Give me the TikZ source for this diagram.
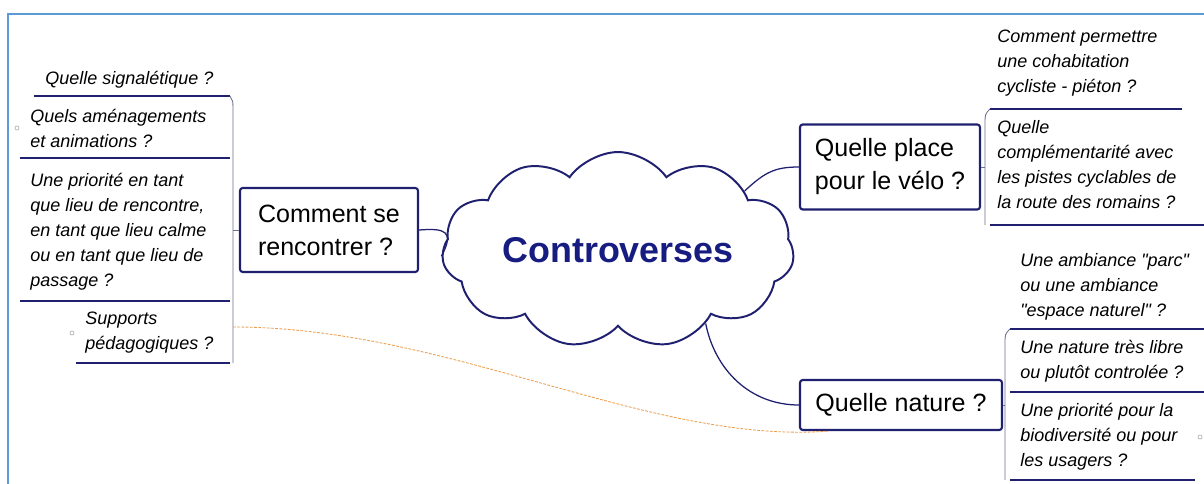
\documentclass[tikz,border=0pt]{standalone}
\usepackage{fontspec}
\setmainfont{Liberation Sans}[Ligatures=TeXOff]
\usepackage{xcolor}
\usetikzlibrary{shapes.symbols}

\definecolor{navy}{RGB}{32,32,112}
\definecolor{titleblue}{RGB}{22,28,128}
\definecolor{frameblue}{RGB}{91,155,213}
\definecolor{dashorange}{RGB}{236,156,76}
\definecolor{brackgray}{RGB}{110,110,145}

\begin{document}
\begin{tikzpicture}[x=0.025cm,y=-0.025cm,
  box/.style={draw=navy,line width=1.5pt,rounded corners=2pt,fill=white,align=left,inner sep=0pt,font=\fontsize{17.8pt}{23.5pt}\selectfont},
  leaf/.style={anchor=west,align=left,inner sep=0pt,font=\fontsize{12.8pt}{17.8pt}\selectfont\itshape},
  uline/.style={draw=navy,line width=1pt},
  brk/.style={draw=brackgray,line width=0.6pt},
  link/.style={draw=navy,line width=0.9pt},
  dot/.style={draw=gray!70,line width=0.4pt}]

\useasboundingbox (0,0) rectangle (1204,484);
\draw[frameblue,line width=1.8pt] (8,484) -- (8,14) -- (1204,14);

\node[draw=navy,line width=1.4pt,cloud,cloud puffs=11,cloud puff arc=110,aspect=2.12,minimum width=8.8cm,minimum height=4.15cm,inner sep=0pt,text=titleblue,font=\fontsize{25.5pt}{30pt}\selectfont\bfseries] (0) at (618,250) {Controverses};
\node[box,minimum width=4.45cm,minimum height=2.1cm] (1) at (329,230) {Comment se\\rencontrer ?};
\node[box,minimum width=4.5cm,minimum height=2.125cm] (2) at (890,167) {Quelle place\\pour le vélo ?};
\node[box,minimum width=5.05cm,minimum height=1.25cm] (3) at (901,405) {Quelle nature ?};

\node[leaf] (4) at (45,80) {Quelle signalétique ?};
\node[leaf] (5) at (30,128) {Quels aménagements\\et animations ?};
\node[leaf] (6) at (30,232) {Une priorité en tant\\que lieu de rencontre,\\en tant que lieu calme\\ou en tant que lieu de\\passage ?};
\node[leaf] (7) at (85,333) {Supports\\pédagogiques ?};
\node[leaf] (8) at (997,63) {Comment permettre\\une cohabitation\\cycliste - piéton ?};
\node[leaf] (9) at (997,165) {Quelle\\complémentarité avec\\les pistes cyclables de\\la route des romains ?};
\node[leaf] (10) at (1020,287) {Une ambiance "parc"\\ou une ambiance\\"espace naturel" ?};
\node[leaf] (11) at (1020,361) {Une nature très libre\\ou plutôt controlée ?};
\node[leaf] (12) at (1020,437) {Une priorité pour la\\biodiversité ou pour\\les usagers ?};

\draw[uline] (34,96) -- (230,96);
\draw[uline] (20,158) -- (230,158);
\draw[uline] (20,301) -- (230,301);
\draw[uline] (76,363) -- (230,363);
\draw[uline] (990,109) -- (1182,109);
\draw[uline] (990,225) -- (1204,225);
\draw[uline] (1010,329) -- (1204,329);
\draw[uline] (1010,392) -- (1204,392);
\draw[uline] (1010,480) -- (1195,480);

\draw[brk] (230,96) .. controls (233,100) .. (233,115) -- (233,363);
\draw[brk] (990,109) .. controls (985,114) .. (985,125) -- (985,225);
\draw[brk] (1010,329) .. controls (1005,334) .. (1005,345) -- (1005,480);

\coordinate (a) at (233,230);
\coordinate (b) at (985,167);
\coordinate (c) at (1005,405);
\coordinate (d) at (233,327);
\draw[brk] (1.west) -- (a);
\draw[brk] (2.east) -- (b);
\draw[brk] (3.east) -- (c);

\draw[link] (1.east) .. controls (445,228) and (455,231) .. (0.182);
\draw[link] (0.25) .. controls (765,172) and (775,167) .. (2.west);
\draw[link] (0.-40) .. controls (715,370) and (750,405) .. (3.west);
\draw[dashorange,dash pattern=on 2pt off 1pt,line width=0.6pt] (d) .. controls (450,327) and (650,445) .. (3.-160);

\draw[dot] (17,128) circle (1.5pt);
\draw[dot] (72,333) circle (1.5pt);
\draw[dot] (1200,437) circle (1.5pt);

\end{tikzpicture}
\end{document}
